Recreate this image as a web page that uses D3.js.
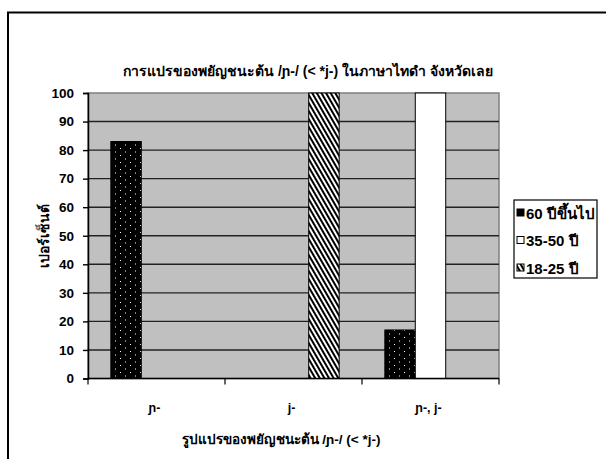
<!DOCTYPE html>
<html>
<head>
<meta charset="utf-8">
<script src="https://cdn.jsdelivr.net/npm/d3@7"></script>
<style>
  html, body { margin: 0; padding: 0; background: #fff; }
  svg { display: block; }
  text { font-family: "Liberation Sans Narrow", "Arial Narrow", "Liberation Sans", Arial, sans-serif; font-weight: bold; fill: #000; }
</style>
</head>
<body>
<svg id="chart" width="606" height="459"></svg>
<script>
// Initial consonant variants and speaker age groups
const categories = ["ɲ-", "j-", "ɲ-, j-"];
const seriesNames = ["60 ปีขึ้นไป", "35-50 ปี", "18-25 ปี"];
const age60plus = [83, 0, 17];
const age35to50 = [0, 0, 100];
const age18to25 = [0, 100, 0];
const yTicks = [0, 10, 20, 30, 40, 50, 60, 70, 80, 90, 100];

const titleText = "การแปรของพยัญชนะต้น /ɲ-/ (< *j-) ในภาษาไทดำ จังหวัดเลย";
const xTitleText = "รูปแปรของพยัญชนะต้น /ɲ-/ (< *j-)";
const yTitleText = "เปอร์เซ็นต์";

const seriesValues = [age60plus, age35to50, age18to25];

const svg = d3.select("#chart");
const W = 606, H = 459;

// Outer chart frame (runs off the right and bottom edges)
svg.append("rect")
  .attr("x", 8).attr("y", 12.5)
  .attr("width", W + 20).attr("height", H + 20)
  .attr("fill", "#fff").attr("stroke", "#000").attr("stroke-width", 2);

// Fill patterns
const defs = svg.append("defs");
const dots = defs.append("pattern")
  .attr("id", "dots").attr("patternUnits", "userSpaceOnUse")
  .attr("width", 10).attr("height", 7);
dots.append("rect").attr("width", 10).attr("height", 7).attr("fill", "#000");
dots.append("rect").attr("x", 2).attr("y", 1).attr("width", 1).attr("height", 1).attr("fill", "#fff");
dots.append("rect").attr("x", 7).attr("y", 4.5).attr("width", 1).attr("height", 1).attr("fill", "#fff");

const hatch = defs.append("pattern")
  .attr("id", "hatch").attr("patternUnits", "userSpaceOnUse")
  .attr("width", 4).attr("height", 4)
  .attr("patternTransform", "rotate(-30)");
hatch.append("rect").attr("width", 4).attr("height", 4).attr("fill", "#fff");
hatch.append("rect").attr("width", 2).attr("height", 4).attr("fill", "#000");

const fills = ["url(#dots)", "#fff", "url(#hatch)"];

// Plot area
const plot = { left: 88, right: 499, top: 93, bottom: 378.5 };

const x0 = d3.scaleBand().domain(categories).range([plot.left, plot.right]).paddingInner(0).paddingOuter(0);
const x1 = d3.scaleBand().domain(d3.range(seriesNames.length))
  .range([0, x0.bandwidth()]).paddingInner(0).paddingOuter(0.75);
const y = d3.scaleLinear().domain([0, 100]).range([plot.bottom, plot.top]);

svg.append("rect")
  .attr("x", plot.left).attr("y", plot.top)
  .attr("width", plot.right - plot.left).attr("height", plot.bottom - plot.top)
  .attr("fill", "#c0c0c0").attr("stroke", "#808080").attr("stroke-width", 1.5);

// Horizontal gridlines
svg.append("g").selectAll("line")
  .data(yTicks.filter(t => t > 0 && t < 100))
  .join("line")
  .attr("x1", plot.left).attr("x2", plot.right)
  .attr("y1", d => y(d)).attr("y2", d => y(d))
  .attr("stroke", "#222").attr("stroke-width", 1.4);

// Bars
const groups = svg.append("g").selectAll("g")
  .data(categories)
  .join("g")
  .attr("transform", c => `translate(${x0(c)},0)`);

groups.selectAll("rect")
  .data((c, ci) => seriesValues.map((vals, si) => ({ si, v: vals[ci] })))
  .join("rect")
  .attr("x", d => x1(d.si))
  .attr("width", x1.bandwidth())
  .attr("y", d => y(d.v))
  .attr("height", d => y(0) - y(d.v))
  .attr("fill", d => fills[d.si])
  .attr("stroke", "#000")
  .attr("stroke-width", d => d.v > 0 ? 1 : 0);

// Y axis
const yAxis = svg.append("g")
  .attr("transform", `translate(${plot.left},0)`)
  .call(d3.axisLeft(y).tickValues(yTicks).tickSize(5).tickPadding(9));
yAxis.select(".domain").attr("stroke", "#000").attr("stroke-width", 1.5);
yAxis.selectAll(".tick line").attr("stroke", "#000").attr("stroke-width", 1.4);
yAxis.selectAll("text").attr("font-size", 13.5).style("font-weight", "bold")
  .attr("fill", "#000");

// X axis with ticks between categories
const xAxisG = svg.append("g").attr("transform", `translate(0,${plot.bottom})`);
xAxisG.append("line")
  .attr("x1", plot.left).attr("x2", plot.right)
  .attr("stroke", "#000").attr("stroke-width", 1.5);
xAxisG.selectAll("line.tk")
  .data(categories)
  .join("line").attr("class", "tk")
  .attr("x1", c => x0(c) + x0.bandwidth()).attr("x2", c => x0(c) + x0.bandwidth())
  .attr("y1", 0).attr("y2", 6)
  .attr("stroke", "#000").attr("stroke-width", 1.2);
xAxisG.append("line")
  .attr("x1", plot.left).attr("x2", plot.left)
  .attr("y1", 0).attr("y2", 6)
  .attr("stroke", "#000").attr("stroke-width", 1.2);
xAxisG.selectAll("text")
  .data(categories)
  .join("text")
  .attr("x", c => x0(c) + x0.bandwidth() / 2 - 2)
  .attr("y", 33)
  .attr("text-anchor", "middle")
  .attr("font-size", 12.5)
  .text(c => c);

// Titles
svg.append("text")
  .attr("x", 308).attr("y", 76)
  .attr("text-anchor", "middle")
  .attr("font-size", 14)
  .text(titleText);

svg.append("text")
  .attr("x", 281).attr("y", 444)
  .attr("text-anchor", "middle")
  .attr("font-size", 13.5)
  .text(xTitleText);

svg.append("text")
  .attr("transform", "translate(49,236) rotate(-90)")
  .attr("text-anchor", "middle")
  .attr("font-size", 14)
  .text(yTitleText);

// Legend
const legend = svg.append("g");
legend.append("rect")
  .attr("x", 514).attr("y", 200).attr("width", 83).attr("height", 78)
  .attr("fill", "#fff").attr("stroke", "#000").attr("stroke-width", 1.2);
const items = legend.selectAll("g.item")
  .data(seriesNames)
  .join("g").attr("class", "item")
  .attr("transform", (d, i) => `translate(517,${213 + i * 27.5})`);
items.append("rect")
  .attr("x", 0).attr("y", -4).attr("width", 7).attr("height", 7)
  .attr("fill", (d, i) => i === 0 ? "#000" : fills[i])
  .attr("stroke", "#000").attr("stroke-width", 1);
items.append("text")
  .attr("x", 9).attr("y", 5.5)
  .attr("font-size", 15)
  .text(d => d);
</script>
</body>
</html>
